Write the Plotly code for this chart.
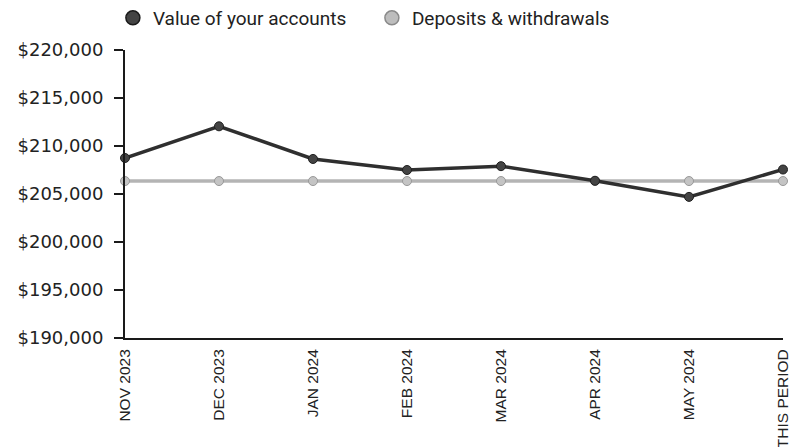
import plotly.graph_objects as go

categories = ["NOV 2023", "DEC 2023", "JAN 2024", "FEB 2024", "MAR 2024",
              "APR 2024", "MAY 2024", "THIS PERIOD"]
account_values = [208750, 212050, 208650, 207500, 207900, 206380, 204700, 207550]
deposits_withdrawals = [206350, 206350, 206350, 206350, 206350, 206350, 206350, 206350]
y_ticks = [190000, 195000, 200000, 205000, 210000, 215000, 220000]
y_tick_labels = ["$190,000", "$195,000", "$200,000", "$205,000", "$210,000",
                 "$215,000", "$220,000"]

DARK = "#2f2f2f"
LIGHT = "#b4b4b4"

fig = go.Figure()

# legend-only entries (marker swatches)
fig.add_trace(go.Scatter(x=[None], y=[None], mode="markers", name="Value of your accounts",
                         marker=dict(size=14, color="#444444", line=dict(color="#1a1a1a", width=1.5))))
fig.add_trace(go.Scatter(x=[None], y=[None], mode="markers", name="Deposits & withdrawals",
                         marker=dict(size=14, color="#bdbdbd", line=dict(color="#8a8a8a", width=1.5))))

fig.add_trace(go.Scatter(x=categories, y=deposits_withdrawals, mode="lines+markers",
                         showlegend=False, cliponaxis=False,
                         line=dict(color=LIGHT, width=3.5),
                         marker=dict(size=9, color="#c4c4c4", line=dict(color="#999999", width=1))))
fig.add_trace(go.Scatter(x=categories, y=account_values, mode="lines+markers",
                         showlegend=False, cliponaxis=False,
                         line=dict(color=DARK, width=3.5),
                         marker=dict(size=9, color="#444444", line=dict(color="#1f1f1f", width=1))))

fig.update_layout(
    width=795, height=447,
    margin=dict(l=125, r=12, t=50, b=109, autoexpand=False),
    paper_bgcolor="white", plot_bgcolor="white",
    legend=dict(orientation="h", xref="container", yref="container",
                x=0.142, xanchor="left", y=1 - 18 / 447, yanchor="middle",
                font=dict(family="Roboto", size=19, color="#222222"),
                itemwidth=30, tracegroupgap=0,
                entrywidth=214, entrywidthmode="pixels"),
    xaxis=dict(type="category", range=[0, 7], showgrid=False, zeroline=False,
               showline=True, linecolor="#1a1a1a", linewidth=2, automargin=False,
               ticks="", tickangle=-90, ticklabelstandoff=3,
               tickfont=dict(family="Liberation Sans", size=15.5, color="#222222")),
    yaxis=dict(range=[190000, 220000], tickvals=y_ticks, ticktext=y_tick_labels,
               showgrid=False, zeroline=False, showline=True, linecolor="#1a1a1a",
               linewidth=2, ticks="outside", ticklen=9, tickwidth=2, tickcolor="#1a1a1a",
               automargin=False, ticklabelstandoff=7,
               tickfont=dict(family="DejaVu Sans", size=18, color="#222222")),
)

fig.write_html("out.html", config={"displayModeBar": False},
               post_script="document.body.style.margin='0px';document.body.style.overflow='hidden';")
